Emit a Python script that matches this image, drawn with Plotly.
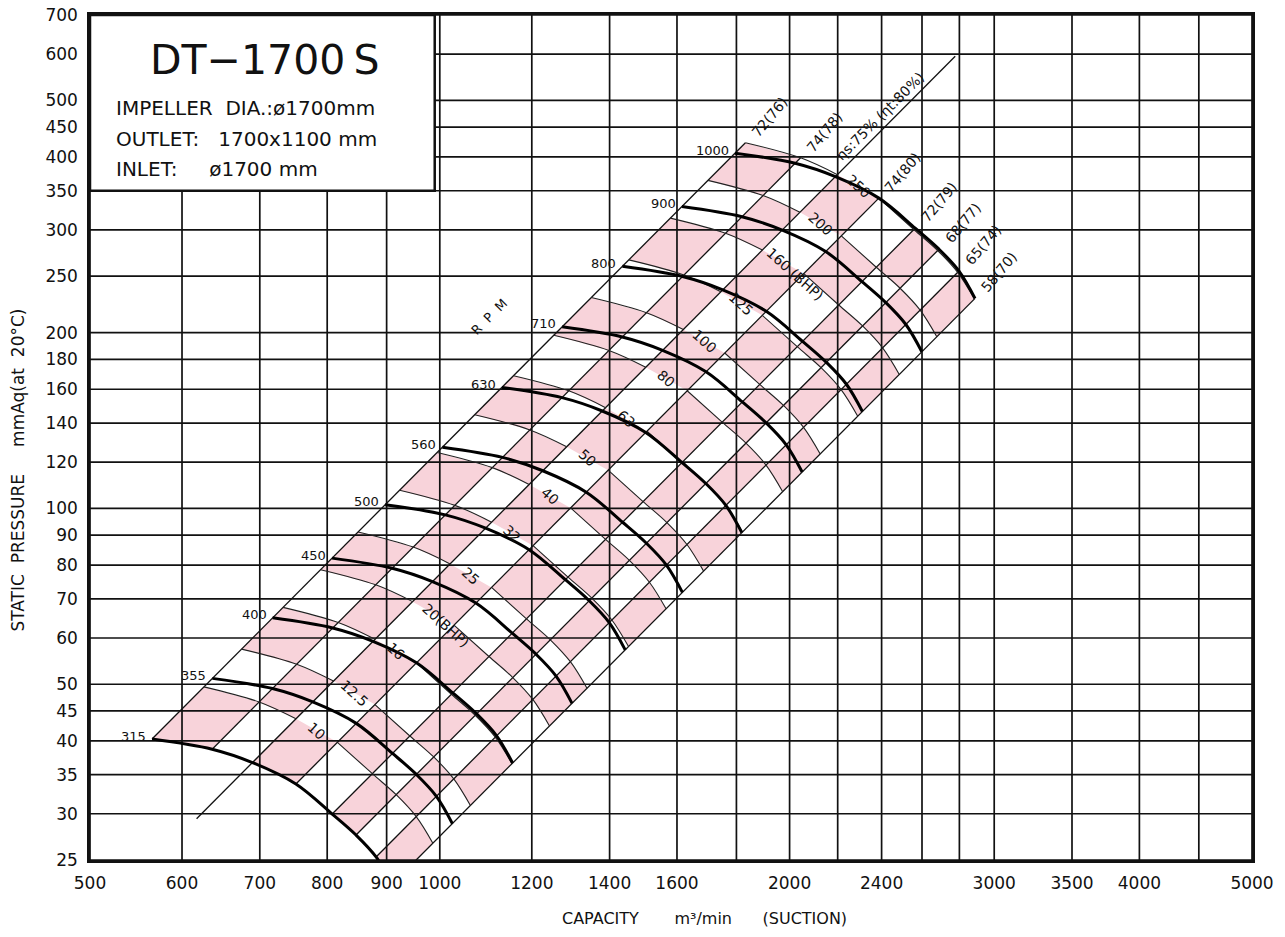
import math
import plotly.graph_objects as go

# ---------------- data ----------------
rpm = [315, 355, 400, 450, 500, 560, 630, 710, 800, 900, 1000]
# 1000 rpm characteristic, sampled where the efficiency lines cross it
base_q = [1795, 2022, 2190, 2387, 2565, 2689, 2798, 2888]      # m3/min
base_p = [406, 390, 370, 340, 302, 278, 255, 229]              # mmAq
base_bhp = [235, 242, 247, 250, 252, 252, 252, 251]            # BHP at 1000 rpm
eff_labels = ["72(76)", "74(78)", "ηs:75% (ηt:80%)", "74(80)", "72(79)",
              "68(77)", "65(74)", "58(70)"]
best_idx = 2
best_span = [0.282, 1.268]          # speed ratio extent of best-efficiency line
bhp_levels = [10, 12.5, 16, 20, 25, 32, 40, 50, 63, 80, 100, 125, 160, 200, 250]
bhp_text = ["10", "12.5", "16", "20(BHP)", "25", "32", "40", "50", "63", "80",
            "100", "125", "160 (BHP)", "200", "250"]
x_ticks = [500, 600, 700, 800, 900, 1000, 1200, 1400, 1600, 2000, 2400, 3000,
           3500, 4000, 5000]
x_minor = [1800, 2200, 2600, 2800, 4500]
y_ticks = [25, 30, 35, 40, 45, 50, 60, 70, 80, 90, 100, 120, 140, 160, 180, 200,
           250, 300, 350, 400, 450, 500, 600, 700]

FONT = "DejaVu Sans"
INK = "#111111"
PINK = "#f8d3da"


def fan_point(i, r):
    """fan affinity laws: Q ~ n, P ~ n^2"""
    return base_q[i] * r, base_p[i] * r * r


def bhp_ratio(w, i):
    """speed ratio at which efficiency point i absorbs w BHP (power ~ n^3)"""
    return (w / base_bhp[i]) ** (1 / 3)


def lg(v):
    return math.log10(v)


n_eff = len(base_q)
ratios = [n / 1000.0 for n in rpm]
top_r = [max(1.0, bhp_ratio(bhp_levels[-1], i)) for i in range(n_eff)]

fig = go.Figure()

# ---------------- pink checker cells (BHP bands x efficiency columns) ----------------
dividers = [[ratios[0]] * n_eff]
for w in bhp_levels[:-1]:
    dividers.append([bhp_ratio(w, i) for i in range(n_eff)])
dividers.append(top_r)
cx, cy = [], []
for k in range(len(dividers) - 1):
    lo, hi = dividers[k], dividers[k + 1]
    for i in range(n_eff - 1):
        if (i + k) % 2:
            continue
        corners = [fan_point(i, lo[i]), fan_point(i + 1, lo[i + 1]),
                   fan_point(i + 1, hi[i + 1]), fan_point(i, hi[i])]
        for q, p in corners + [corners[0]]:
            cx.append(q)
            cy.append(p)
        cx.append(None)
        cy.append(None)
fig.add_trace(go.Scatter(x=cx, y=cy, mode="lines", fill="toself", fillcolor=PINK,
                         line=dict(width=0), hoverinfo="skip"))

# ---------------- grid ----------------
gx, gy = [], []
for v in x_ticks + x_minor:
    gx += [v, v, None]
    gy += [y_ticks[0], y_ticks[-1], None]
for v in y_ticks:
    gx += [x_ticks[0], x_ticks[-1], None]
    gy += [v, v, None]
fig.add_trace(go.Scatter(x=gx, y=gy, mode="lines", line=dict(color=INK, width=1.7),
                         hoverinfo="skip"))

# ---------------- efficiency (system) lines ----------------
dx, dy = [], []
for i in range(n_eff):
    lo = best_span[0] if i == best_idx else ratios[0]
    hi = best_span[1] if i == best_idx else top_r[i]
    q0, p0 = fan_point(i, lo)
    q1, p1 = fan_point(i, hi)
    dx += [q0, q1, None]
    dy += [p0, p1, None]
fig.add_trace(go.Scatter(x=dx, y=dy, mode="lines", line=dict(color=INK, width=1.3),
                         hoverinfo="skip"))

# ---------------- BHP lines ----------------
for w in bhp_levels:
    pts = [fan_point(i, bhp_ratio(w, i)) for i in range(n_eff)]
    seg1 = pts[:best_idx + 1]
    seg2 = pts[best_idx + 1:]
    xs = [p[0] for p in seg1] + [None] + [p[0] for p in seg2]
    ys = [p[1] for p in seg1] + [None] + [p[1] for p in seg2]
    fig.add_trace(go.Scatter(x=xs, y=ys, mode="lines", line=dict(color="#222", width=1.1,
                             shape="spline"), hoverinfo="skip"))

# ---------------- RPM curves ----------------
for r in ratios:
    pts = [fan_point(i, r) for i in range(n_eff)]
    fig.add_trace(go.Scatter(x=[p[0] for p in pts], y=[p[1] for p in pts], mode="lines",
                             line=dict(color="black", width=3, shape="spline"),
                             hoverinfo="skip"))

ann = []
# RPM labels
for n, r in zip(rpm, ratios):
    q, p = fan_point(0, r)
    ann.append(dict(x=lg(q), y=lg(p), xref="x", yref="y", text=str(n), showarrow=False,
                    xanchor="right", yanchor="middle", xshift=-4, yshift=3,
                    font=dict(family=FONT, size=13, color=INK)))
# efficiency labels
for i in range(n_eff):
    if i == best_idx:
        q, p = fan_point(i, 1.11)
        ann.append(dict(x=lg(q), y=lg(p), xref="x", yref="y", text=eff_labels[i],
                        showarrow=False, textangle=-45, xanchor="center", yanchor="middle",
                        xshift=-8, yshift=8, font=dict(family=FONT, size=14, color=INK)))
    else:
        q, p = fan_point(i, top_r[i])
        ann.append(dict(x=lg(q), y=lg(p), xref="x", yref="y", text=eff_labels[i],
                        showarrow=False, textangle=-50, xanchor="left", yanchor="bottom",
                        font=dict(family=FONT, size=14, color=INK)))
# BHP labels (between efficiency lines 2 and 3)
for w, t in zip(bhp_levels, bhp_text):
    qa, pa = fan_point(best_idx, bhp_ratio(w, best_idx))
    qb, pb = fan_point(best_idx + 1, bhp_ratio(w, best_idx + 1))
    shift = 12 if "BHP" in t else 0
    ann.append(dict(x=(lg(qa) + lg(qb)) / 2, y=(lg(pa) + lg(pb)) / 2, xref="x", yref="y",
                    text=t, showarrow=False, textangle=42, xanchor="center",
                    yanchor="middle", xshift=shift, yshift=-shift,
                    font=dict(family=FONT, size=14, color=INK)))

# RPM caption
ann.append(dict(x=0.344, y=0.643, xref="paper", yref="paper", text="R  P  M",
                showarrow=False, textangle=-45, xanchor="center", yanchor="middle",
                font=dict(family=FONT, size=13, color=INK)))

# info box text
ann.append(dict(x=0.151, y=0.947, xref="paper", yref="paper", text="DT−1700\u2009S",
                showarrow=False, xanchor="center", yanchor="middle",
                font=dict(family=FONT, size=41, color=INK)))
for txt, yy in [("IMPELLER  DIA.:ø1700mm", 0.890),
                ("OUTLET:   1700x1100 mm", 0.853),
                ("INLET:     ø1700 mm", 0.818)]:
    ann.append(dict(x=0.021, y=yy, xref="paper", yref="paper", text=txt, showarrow=False,
                    xanchor="left", yanchor="middle",
                    font=dict(family=FONT, size=20, color=INK)))

# axis titles
ann.append(dict(x=-0.062, y=0.462, xref="paper", yref="paper",
                text="STATIC  PRESSURE     mmAq(at  20°C)", showarrow=False, textangle=-90,
                xanchor="center", yanchor="middle",
                font=dict(family=FONT, size=17, color=INK)))
ann.append(dict(x=0.529, y=-0.069, xref="paper", yref="paper",
                text="CAPACITY       m³/min      (SUCTION)", showarrow=False,
                xanchor="center", yanchor="middle",
                font=dict(family=FONT, size=16, color=INK)))

fig.update_layout(
    width=1285, height=937,
    margin=dict(l=90, r=33, t=15, b=77, autoexpand=False),
    paper_bgcolor="white", plot_bgcolor="white",
    showlegend=False,
    annotations=ann,
    shapes=[dict(type="rect", xref="x", yref="y", x0=500, x1=990, y0=350, y1=700,
                 fillcolor="white", line=dict(color=INK, width=2.5), layer="above")],
)
fig.update_xaxes(type="log", range=[lg(500), lg(5000)], tickvals=x_ticks,
                 ticktext=[str(v) for v in x_ticks], showgrid=False, zeroline=False,
                 showline=True, linecolor=INK, linewidth=2.5, mirror=True,
                 ticks="outside", ticklen=6, tickcolor="rgba(0,0,0,0)",
                 ticklabeloverflow="allow", automargin=False,
                 tickfont=dict(family=FONT, size=17, color=INK))
fig.update_yaxes(type="log", range=[lg(25), lg(700)], tickvals=y_ticks,
                 ticktext=[str(v) for v in y_ticks], showgrid=False, zeroline=False,
                 showline=True, linecolor=INK, linewidth=2.5, mirror=True,
                 ticks="outside", ticklen=6, tickcolor="rgba(0,0,0,0)",
                 ticklabeloverflow="allow", automargin=False,
                 tickfont=dict(family=FONT, size=17, color=INK))

# remove the default page margin so the 1285x937 figure fills the window exactly
fig.write_html("out.html",
               config={"displayModeBar": False},
               post_script="document.body.style.margin='0';"
                           "document.body.style.overflow='hidden';")
